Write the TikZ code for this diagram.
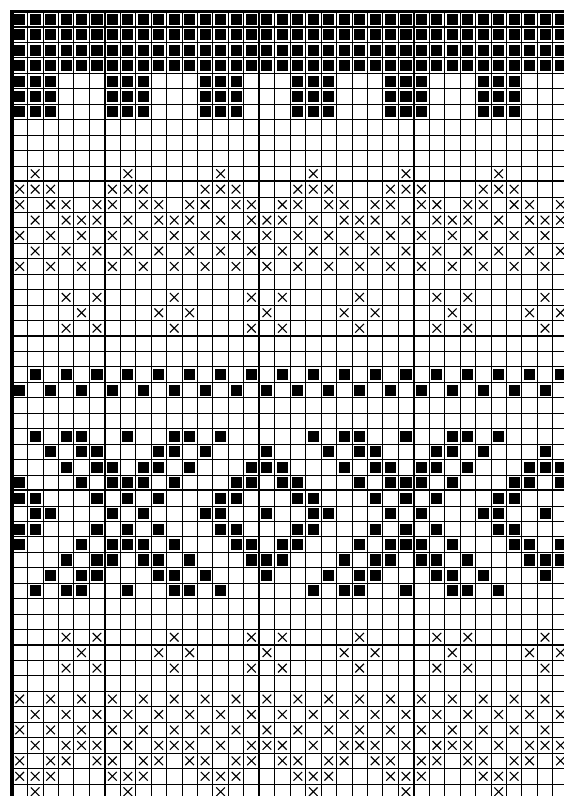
\documentclass[tikz,border=0pt]{standalone}
\tikzset{
  gridthin/.style={line width=0.8pt, black},
  gridthick/.style={line width=2pt, black},
  gridborder/.style={line width=3.5pt, black},
  blackcell/.style={fill=black},
  xmark/.style={line width=1.1pt, black},
}
\newcommand\chartB[2]{\fill[blackcell] ({12+#1*15.45+2.2},{11.5+#2*15.45+2.2}) rectangle ++(11.05,11.05);}
\newcommand\chartX[2]{\draw[xmark] ({12+#1*15.45+3.4},{11.5+#2*15.45+3.4}) -- ++(8.65,8.65) ({12+#1*15.45+3.4},{11.5+#2*15.45+12.05}) -- ++(8.65,-8.65);}
\newcommand\patrow[4]{\foreach \k in {0,...,35}{\foreach \m in {#3}{\pgfmathtruncatemacro\cc{#2*\k+\m}\ifnum\cc<36 \csname chart#4\endcsname{\cc}{#1}\fi}}}
\begin{document}
\begin{tikzpicture}[x=1pt,y=-1pt]
\useasboundingbox (0,0) rectangle (564,796);
\clip (0,0) rectangle (564,796);
\fill[white] (0,0) rectangle (564,796);
% grid
\foreach \i in {0,...,36} \draw[gridthin] ({12+\i*15.45},11.5) -- ({12+\i*15.45},800);
\foreach \j in {0,...,51} \draw[gridthin] (12,{11.5+\j*15.45}) -- (570,{11.5+\j*15.45});
\foreach \i in {6,16,26} \draw[gridthick] ({12+\i*15.45},11.5) -- ({12+\i*15.45},800);
\foreach \j in {1,11,21,31,41} \draw[gridthick] (12,{11.5+\j*15.45}) -- (570,{11.5+\j*15.45});
\draw[gridborder] (12,800) -- (12,11.5) -- (570,11.5);
% solid top rows
\foreach \r in {0,1,2,3} {\patrow{\r}{1}{0}{B}}
\foreach \r in {4,5,6} {\patrow{\r}{6}{0,1,2}{B}}
% upper cross band
\patrow{10}{6}{1}{X}
\patrow{11}{6}{0,1,2}{X}
\patrow{12}{6}{0,2,3,5}{X}
\patrow{13}{6}{1,3,4,5}{X}
\patrow{14}{2}{0}{X}
\patrow{15}{2}{1}{X}
\patrow{16}{2}{0}{X}
\patrow{18}{12}{3,5,10}{X}
\patrow{19}{12}{4,9,11}{X}
\patrow{20}{12}{3,5,10}{X}
% checker rows
\patrow{23}{2}{1}{B}
\patrow{24}{2}{0}{B}
% diamond band
\patrow{27}{18}{1,3,4,7,10,11,13}{B}
\patrow{28}{18}{2,4,5,9,10,12,16}{B}
\patrow{29}{18}{3,5,6,8,9,11,15,16,17}{B}
\patrow{30}{18}{0,4,6,7,8,10,14,15,17}{B}
\patrow{31}{18}{0,1,5,7,9,13,14}{B}
\patrow{32}{18}{1,2,6,8,12,13,16}{B}
\patrow{33}{18}{0,1,5,7,9,13,14}{B}
\patrow{34}{18}{0,4,6,7,8,10,14,15,17}{B}
\patrow{35}{18}{3,5,6,8,9,11,15,16,17}{B}
\patrow{36}{18}{2,4,5,9,10,12,16}{B}
\patrow{37}{18}{1,3,4,7,10,11,13}{B}
% lower cross band
\patrow{40}{12}{3,5,10}{X}
\patrow{41}{12}{4,9,11}{X}
\patrow{42}{12}{3,5,10}{X}
\patrow{44}{2}{0}{X}
\patrow{45}{2}{1}{X}
\patrow{46}{2}{0}{X}
\patrow{47}{6}{1,3,4,5}{X}
\patrow{48}{6}{0,2,3,5}{X}
\patrow{49}{6}{0,1,2}{X}
\patrow{50}{6}{1}{X}
\end{tikzpicture}
\end{document}
